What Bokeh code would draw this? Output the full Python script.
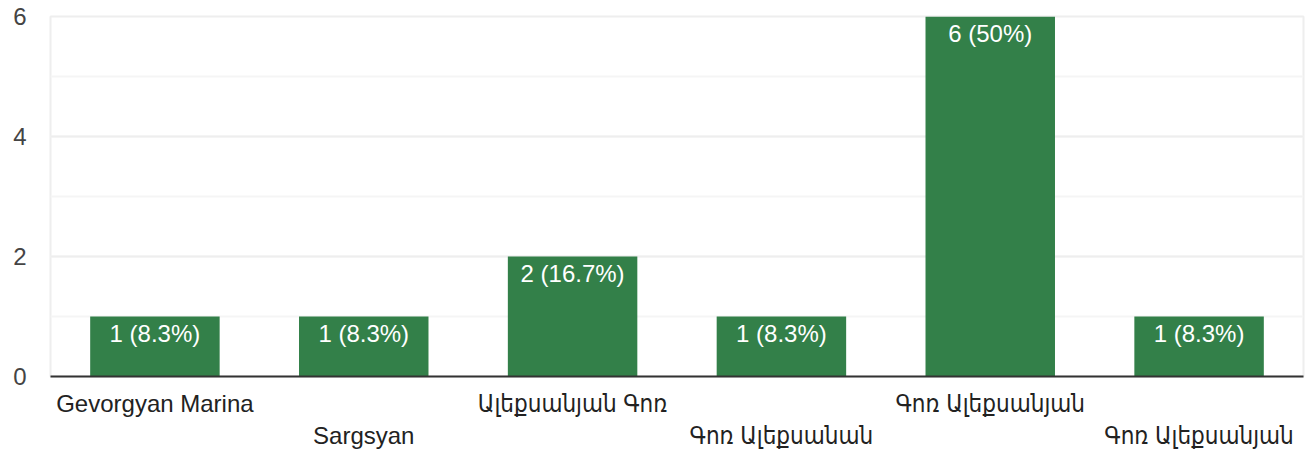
from bokeh.plotting import figure
from bokeh.models import Range1d, LinearAxis, FixedTicker, SingleIntervalTicker, ColumnDataSource
from bokeh.core.properties import value
from bokeh.embed import file_html
from bokeh.resources import INLINE

categories = ["Gevorgyan Marina", "Sargsyan", "Ալեքսանյան Գոռ", "Գոռ Ալեքսանան", "Գոռ Ալեքսանյան", "Գոռ Ալեքսանյան"]
counts = [1, 1, 2, 1, 6, 1]

total = sum(counts)
def fmt(c):
    pct = round(100.0 * c / total, 1)
    s = ("%.1f" % pct).rstrip("0").rstrip(".")
    return "%d (%s%%)" % (c, s)

xs = list(range(len(categories)))
labels = [fmt(c) for c in counts]
src = ColumnDataSource(dict(x=xs, y=counts, label=labels))

FONT = "Liberation Sans, Arial, 'DejaVu Sans Condensed', 'DejaVu Sans', sans-serif"
BAR = "#338049"
FS = "24px"

p = figure(output_backend="svg", toolbar_location=None,
           frame_width=1253, frame_height=360,
           x_range=Range1d(-0.5, 5.5), y_range=Range1d(0, 6),
           min_border_left=50, min_border_right=3, min_border_top=16, min_border_bottom=4,
           x_axis_location=None)
p.outline_line_color = "#eeeeee"
p.outline_line_width = 2

p.vbar(x="x", top="y", width=0.62, bottom=0, source=src, fill_color=BAR, line_color=None)
p.text(x="x", y="y", text="label", source=src, text_color="white",
       text_font=value(FONT), text_font_size=FS, text_align="center",
       text_baseline="top", y_offset=3)

# y axis
p.yaxis.ticker = SingleIntervalTicker(interval=2, num_minor_ticks=2)
p.yaxis.axis_line_color = None
p.yaxis.major_tick_line_color = None
p.yaxis.minor_tick_line_color = None
p.yaxis.major_label_text_font = FONT
p.yaxis.major_label_text_font_size = FS
p.yaxis.major_label_text_color = "#444444"
p.yaxis.major_label_standoff = 18

p.ygrid.grid_line_color = "#eeeeee"
p.ygrid.grid_line_width = 2
p.ygrid.minor_grid_line_color = "#f5f5f5"
p.ygrid.minor_grid_line_width = 2
p.xgrid.grid_line_color = None

# staggered x labels via two below axes
even = [i for i in xs if i % 2 == 0]
odd = [i for i in xs if i % 2 == 1]

ax1 = LinearAxis(ticker=FixedTicker(ticks=even),
                 major_label_overrides={i: categories[i] for i in even})
ax2 = LinearAxis(ticker=FixedTicker(ticks=odd),
                 major_label_overrides={i: categories[i] for i in odd})
for ax in (ax1, ax2):
    ax.major_tick_line_color = None
    ax.minor_tick_line_color = None
    ax.major_tick_out = 0
    ax.major_label_text_font = FONT
    ax.major_label_text_font_size = FS
    ax.major_label_text_color = "#222222"
ax1.axis_line_color = "#333333"
ax1.axis_line_width = 2
ax1.major_label_standoff = 13
ax2.axis_line_color = None
ax2.major_label_standoff = 2
p.add_layout(ax1, "below")
p.add_layout(ax2, "below")

open("out.html", "w").write(file_html(p, INLINE))
